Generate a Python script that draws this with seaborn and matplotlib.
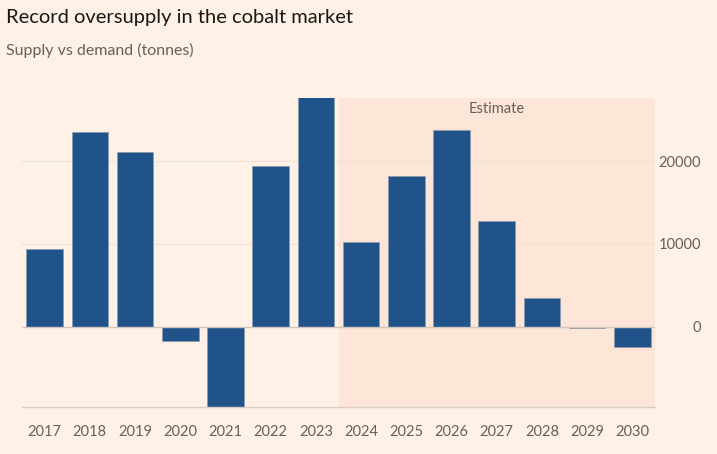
import pandas as pd
import matplotlib.pyplot as plt
import seaborn as sns

# Supply vs demand balance (tonnes)
years = ['2017', '2018', '2019', '2020', '2021', '2022', '2023',
         '2024', '2025', '2026', '2027', '2028', '2029', '2030']
balance = [9380, 23510, 21100, -1700, -10500, 19350, 28500,
           10230, 18200, 23750, 12770, 3470, -150, -2390]
yticks = [0, 10000, 20000]

df = pd.DataFrame({'year': years, 'balance': balance})

bg = '#FFF1E5'
shade = '#FDE5D7'
bar_color = '#1F538A'
text_grey = '#66605C'

sns.set_theme(style='white')
plt.rcParams['font.family'] = ['Lato', 'DejaVu Sans']

fig = plt.figure(figsize=(7.17, 4.54), dpi=100, facecolor=bg)
ax = fig.add_axes([22 / 717, 1 - 406.7 / 454, (655 - 22) / 717, (406.7 - 98) / 454])
ax.set_facecolor(bg)

# estimate band
ax.axvspan(6.5, 13.5, color=shade, zorder=0, lw=0)
ax.text(10.0, 26250, 'Estimate', ha='center', va='center', fontsize=10.5, color=text_grey)

for y in [10000, 20000]:
    ax.axhline(y, color='#F3E3D6', lw=1, zorder=1)

sns.barplot(data=df, x='year', y='balance', color=bar_color, width=0.81,
            edgecolor='#8C9AAE', linewidth=0.6, saturation=1, ax=ax, zorder=2)
ax.axhline(0, color='#CFC6BD', lw=1, zorder=3)

ax.set_xlim(-0.5, 13.5)
ax.set_ylim(-9660, 27620)
ax.set_xlabel('')
ax.set_ylabel('')

for s in ['top', 'left', 'right']:
    ax.spines[s].set_visible(False)
ax.spines['bottom'].set_color('#D9CEC4')
ax.spines['bottom'].set_linewidth(1)

ax.yaxis.tick_right()
ax.set_yticks(yticks)
ax.set_yticklabels([str(v) for v in yticks])
ax.tick_params(axis='y', length=0, pad=33, labelsize=10.5, labelcolor=text_grey)
for lbl in ax.get_yticklabels():
    lbl.set_horizontalalignment('right')
ax.tick_params(axis='x', length=7, width=1, color='#D9CEC4', pad=6,
               labelsize=10.5, labelcolor=text_grey)

fig.text(6 / 717, 1 - 18 / 454, 'Record oversupply in the cobalt market',
         fontsize=14.5, color='#1A1817', va='center', ha='left')
fig.text(6 / 717, 1 - 50 / 454, 'Supply vs demand (tonnes)',
         fontsize=11.5, color=text_grey, va='center', ha='left')

fig.savefig('out.png', dpi=100, facecolor=bg)
